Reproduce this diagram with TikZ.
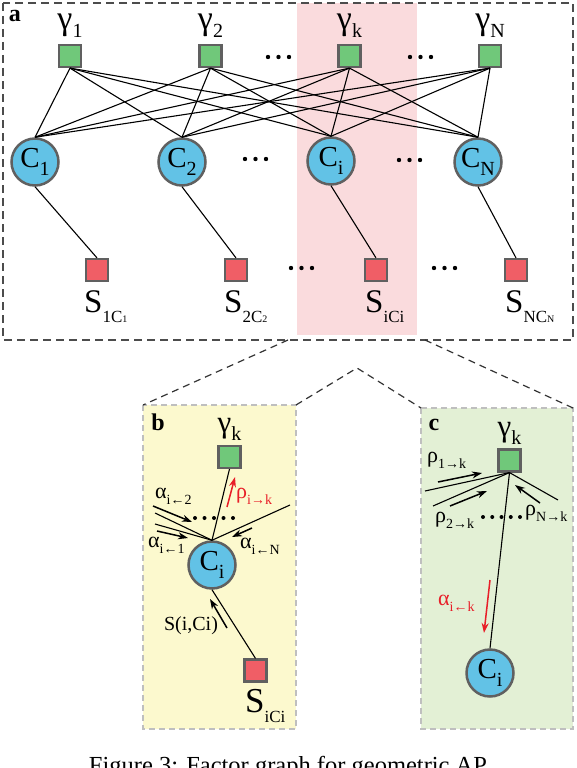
\documentclass[tikz,border=0pt]{standalone}
\usepackage{fontspec}
\setmainfont{Liberation Serif}
\usepackage{xcolor}
\usetikzlibrary{arrows.meta,positioning}

\definecolor{facgreen}{RGB}{112,200,122}
\definecolor{facred}{RGB}{240,94,102}
\definecolor{varblue}{RGB}{98,194,230}
\definecolor{nodeline}{RGB}{96,96,96}
\definecolor{stripred}{RGB}{250,219,221}
\definecolor{panelyellow}{RGB}{252,249,206}
\definecolor{panelgreen}{RGB}{227,240,213}
\definecolor{msgred}{RGB}{232,30,40}

\newcommand{\fs}[1]{\fontsize{#1}{#1}\selectfont}
\newcommand{\gsub}[1]{\raisebox{-8pt}{\fs{20}#1}}
\newcommand{\msub}[1]{\raisebox{-6pt}{\fs{14}#1}}
\newcommand{\ssub}[1]{\raisebox{-10pt}{\fs{17}#1}}
\newcommand{\tsub}[1]{{\fs{10}#1}}

\begin{document}
\begin{tikzpicture}[x=1pt, y=-1pt,
  varnode/.style={circle, draw=nodeline, line width=2.5pt, fill=varblue, minimum size=47pt, inner sep=0pt, font=\fs{29}},
  facnode/.style={rectangle, draw=nodeline, line width=2.2pt, minimum size=22pt, inner sep=0pt},
  gfac/.style={facnode, fill=facgreen},
  sfac/.style={facnode, fill=facred},
  glab/.style={inner sep=0pt, font=\fs{34}},
  slab/.style={inner sep=0pt, anchor=base west, font=\fs{33}},
  mlab/.style={inner sep=0pt, anchor=base west, font=\fs{22}},
  edge/.style={line width=1.1pt},
  msg/.style={-{Stealth[length=10pt,width=7pt]}, line width=1.5pt},
  zoomline/.style={draw=black!80, line width=1.2pt, dash pattern=on 7pt off 5pt},
  panel/.style={draw=black!25, line width=1.3pt, dash pattern=on 6pt off 4pt},
  tag/.style={inner sep=0pt, font=\bfseries\fs{24}}
]
  \useasboundingbox (0,0) rectangle (576,768);

  % backgrounds
  \fill[stripred] (297,3) rectangle (417,335);
  \draw[black!70, line width=1.6pt, dash pattern=on 8pt off 5pt] (3,3) rectangle (573,340);
  \draw[panel, fill=panelyellow] (143,405) rectangle (296,729);
  \draw[panel, fill=panelgreen] (421,408) rectangle (573,729);

  \draw[zoomline] (288,340) -- (143,405);
  \draw[zoomline] (296,405) -- (357,368) -- (421,408);
  \draw[zoomline] (425,340) -- (573,408);

  \node[tag] (taga) at (15,16) {a};
  \node[tag] (tagb) at (158,422) {b};
  \node[tag] (tagc) at (434,425) {c};

  % (a) full factor graph
  \node[gfac] (g1) at (70,56) {};
  \node[gfac] (g2) at (210.5,56) {};
  \node[gfac] (gk) at (349.5,56) {};
  \node[gfac] (gN) at (490,56) {};

  \node[glab, above=6pt of g1] (g1lab) {γ\gsub{1}};
  \node[glab, above=6pt of g2] (g2lab) {γ\gsub{2}};
  \node[glab, above=6pt of gk] (gklab) {γ\gsub{k}};
  \node[glab, above=6pt of gN] (gNlab) {γ\gsub{N}};

  \node[varnode] (c1) at (35,162) {C\gsub{1}};
  \node[varnode] (c2) at (182,162) {C\gsub{2}};
  \node[varnode] (ci) at (331,161) {C\gsub{i}};
  \node[varnode] (cN) at (478,162) {C\gsub{N}};

  \node[sfac] (s1) at (97,270) {};
  \node[sfac] (s2) at (236,270) {};
  \node[sfac] (si) at (376,270) {};
  \node[sfac] (sN) at (516,270) {};

  \node[slab] (s1lab) at (84,312) {S\ssub{1C\tsub{1}}};
  \node[slab] (s2lab) at (224,312) {S\ssub{2C\tsub{2}}};
  \node[slab] (silab) at (365,312) {S\ssub{iCi}};
  \node[slab] (sNlab) at (505,312) {S\ssub{NC\tsub{N}}};

  \foreach \g in {g1,g2,gk,gN}
    \foreach \c in {c1,c2,ci,cN}
      \draw[edge] (\g.south) -- (\c.north);
  \foreach \c/\s in {c1/s1,c2/s2,ci/si,cN/sN}
    \draw[edge] (\c.south) -- (\s.north);

  \foreach \x/\y in {268/57, 410/57, 245/159, 399/160, 291/268, 434/268}
    \foreach \d in {0,1,2}
      \fill (\x+\d*10.5,\y) circle (2.2pt);

  % (b) messages into C_i
  \node[gfac] (bg) at (229.5,457) {};
  \node[glab, font=\fs{31}, above=4pt of bg] (bglab) {γ\gsub{k}};
  \node[varnode] (bc) at (212,565) {C\gsub{i}};
  \node[sfac] (bs) at (255.5,670.5) {};
  \node[slab, font=\fs{35}] (bslab) at (245,712) {S\ssub{iCi}};

  \coordinate (bl2) at (155,513);
  \coordinate (bl1) at (155,524);
  \coordinate (br) at (290,505);
  \draw[edge] (bc.north) -- (bg.south);
  \draw[edge] (bc.north) -- (bl2);
  \draw[edge] (bc.north) -- (bl1);
  \draw[edge] (bc.north) -- (br);
  \draw[edge] (bc.south) -- (bs.north);

  \foreach \d in {0,...,4}
    \fill (195+\d*9.5,518) circle (2pt);

  \draw[msg] (153,506) -- (192,522);
  \draw[msg] (157,531) -- (188,538);
  \draw[msg] (252,528) -- (232,537);
  \draw[msg, msgred] (227,507) -- (235,477);
  \draw[msg] (227,628) -- (210,599);

  \node[mlab] (a2lab) at (155,498) {α\msub{i←2}};
  \node[mlab] (a1lab) at (148,547) {α\msub{i←1}};
  \node[mlab] (aNlab) at (240,548) {α\msub{i←N}};
  \node[mlab, text=msgred] (rklab) at (236,498) {ρ\msub{i→k}};
  \node[inner sep=0pt, anchor=base, font=\fs{20}] (silab2) at (191,630) {S(i,Ci)};

  % (c) messages into gamma_k
  \node[gfac] (cg) at (509.5,460.5) {};
  \node[glab, font=\fs{31}, above=4pt of cg] (cglab) {γ\gsub{k}};
  \node[varnode] (cc) at (490,673) {C\gsub{i}};

  \coordinate (cl1) at (425,491);
  \coordinate (cl2) at (433,506);
  \coordinate (cr) at (558,500);
  \draw[edge] (cg.south) -- (cl1);
  \draw[edge] (cg.south) -- (cl2);
  \draw[edge] (cg.south) -- (cr);
  \draw[edge] (cg.south) -- (cc.north);

  \foreach \d in {0,...,4}
    \fill (483+\d*9.25,517) circle (2pt);

  \draw[msg] (438,482) -- (482,473);
  \draw[msg] (450,506) -- (487,491);
  \draw[msg] (540,503) -- (515,485);
  \draw[msg, msgred] (490,580) -- (484,633);

  \node[mlab] (r1lab) at (427,462) {ρ\msub{1→k}};
  \node[mlab] (r2lab) at (435,522) {ρ\msub{2→k}};
  \node[mlab] (rNlab) at (525,515) {ρ\msub{N→k}};
  \node[mlab, text=msgred] (aklab) at (438,605) {α\msub{i←k}};

  \node[inner sep=0pt, anchor=base, font=\fs{24.5}] (caption) at (288,773) {Figure 3: Factor graph for geometric AP};
\end{tikzpicture}
\end{document}
